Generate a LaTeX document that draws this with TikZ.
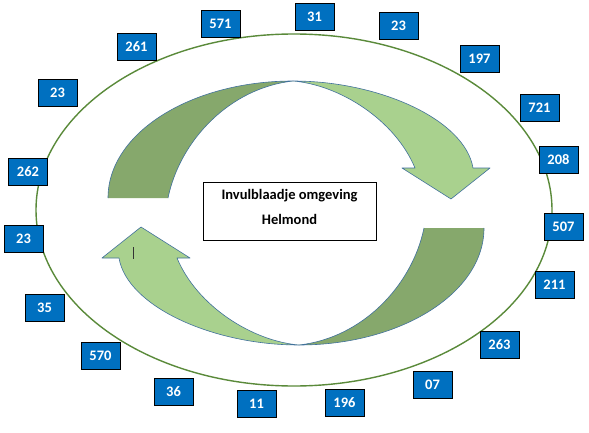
\documentclass[tikz,border=0pt]{standalone}
\usepackage{fontspec}
\setmainfont{Carlito}
\definecolor{boxblue}{HTML}{0070C0}
\definecolor{ringgreen}{HTML}{5A8A3A}
\definecolor{darkarrow}{HTML}{86A86C}
\definecolor{lightarrow}{HTML}{A9D18E}
\definecolor{arrowedge}{HTML}{41719C}
\tikzset{
  numbox/.style={draw=black, line width=0.8pt, fill=boxblue, text=white,
    font=\bfseries\fontsize{14.5}{16}\selectfont, minimum width=39pt,
    minimum height=27pt, inner sep=0pt},
  arrowpart/.style={draw=arrowedge, line width=0.6pt, line join=round},
  titlebox/.style={draw=black, line width=0.8pt, fill=white, minimum width=173pt,
    minimum height=58pt, inner sep=0pt},
  titletext/.style={align=center, inner sep=0pt,
    font=\bfseries\fontsize{14.5}{25}\selectfont}
}
\newcommand\cyclearrowshape{%
  \fill[darkarrow] (108,198) .. controls (108,133) and (191,81) .. (293,81)
    .. controls (230,88) and (180,140) .. (168,198) -- cycle;
  \draw[arrowpart] (108,198) .. controls (108,133) and (191,81) .. (293,81)
    .. controls (230,88) and (180,140) .. (168,198);
  \filldraw[arrowpart, fill=lightarrow] (293,81) .. controls (380,81) and (465,120) .. (473,168)
    -- (490,168) -- (451,199) -- (402,168) -- (415,168)
    .. controls (395,120) and (340,85) .. (293,81) -- cycle;
}
\begin{document}
\begin{tikzpicture}[x=1pt,y=-1pt]
\useasboundingbox (0,0) rectangle (589,433);
\fill[white] (0,0) rectangle (589,433);
\draw[ringgreen, line width=1.4pt] (294,210) ellipse [x radius=258pt, y radius=176pt];
\cyclearrowshape
\begin{scope}[rotate around={180:(296,213)}]
\cyclearrowshape
\end{scope}
\draw[line width=0.6pt, black!80] (133,247) -- (133,259);
\node[titlebox] (title) at (289.5,211) {};
\node[titletext] (titletxt) at (289.5,207) {Invulblaadje omgeving\\Helmond};
\node[numbox] (b1) at (220.5,23.5) {571};
\node[numbox] (b2) at (314.5,16.5) {31};
\node[numbox] (b3) at (398.5,25.5) {23};
\node[numbox] (b4) at (479.5,58.5) {197};
\node[numbox] (b5) at (539.5,107.5) {721};
\node[numbox] (b6) at (558.5,160) {208};
\node[numbox] (b7) at (563.5,226.5) {507};
\node[numbox] (b8) at (554.5,285) {211};
\node[numbox] (b9) at (499.5,344.5) {263};
\node[numbox] (b10) at (432.5,384.5) {07};
\node[numbox] (b11) at (344.5,402.5) {196};
\node[numbox] (b12) at (256.5,403.5) {11};
\node[numbox] (b13) at (173.5,391.5) {36};
\node[numbox] (b14) at (100.5,355.5) {570};
\node[numbox] (b15) at (44.5,307.5) {35};
\node[numbox] (b16) at (23.5,238.5) {23};
\node[numbox] (b17) at (28,172) {262};
\node[numbox] (b18) at (57.5,92.5) {23};
\node[numbox] (b19) at (136.5,46.5) {261};
\end{tikzpicture}
\end{document}
